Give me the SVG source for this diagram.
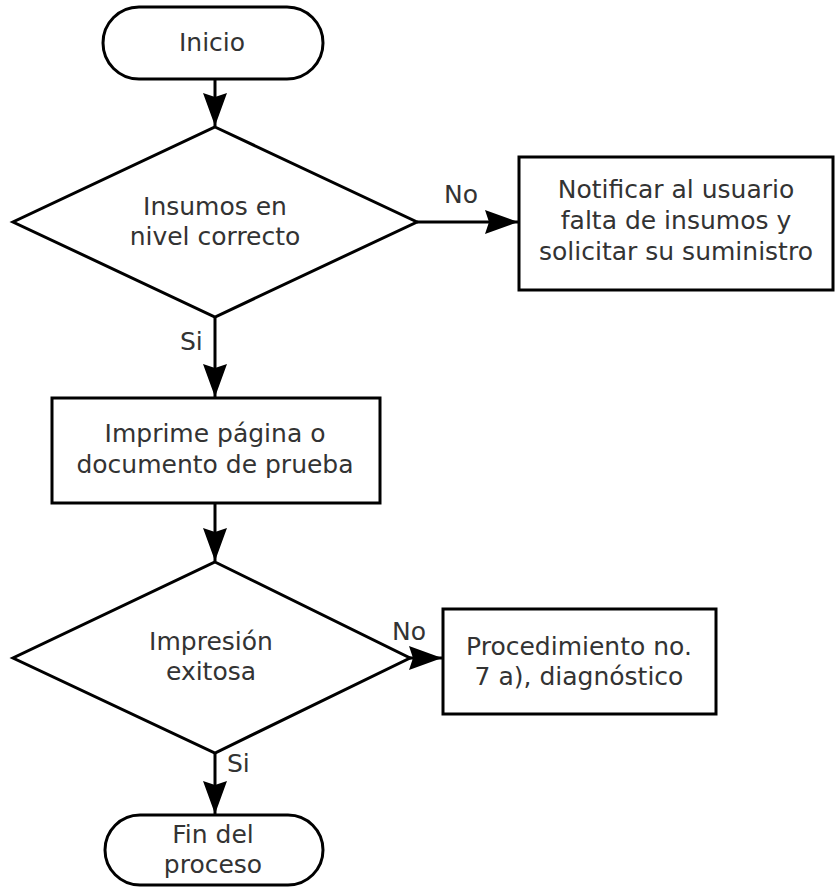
<svg xmlns="http://www.w3.org/2000/svg" width="837" height="888" viewBox="0 0 837 888">
  <style>
    .shape { fill: #ffffff; stroke: #000000; stroke-width: 3; }
    .edge { fill: none; stroke: #000000; stroke-width: 3; }
    text { font-family: "DejaVu Sans", "Liberation Sans", sans-serif; font-size: 25px; fill: #333333; }
    .c { text-anchor: middle; }
  </style>
  <defs>
    <marker id="arrow" viewBox="0 0 33 24" refX="33" refY="12" markerWidth="33" markerHeight="24" markerUnits="userSpaceOnUse" orient="auto">
      <path d="M0,0 L33,12 L0,24 L4,12 Z" fill="#000000"/>
    </marker>
  </defs>
  <rect x="0" y="0" width="837" height="888" fill="#ffffff"/>

  <g id="connectors">
    <line class="edge" x1="215" y1="79" x2="215" y2="126" marker-end="url(#arrow)"/>
    <line class="edge" x1="417" y1="222" x2="518" y2="222" marker-end="url(#arrow)"/>
    <line class="edge" x1="215" y1="317" x2="215" y2="397" marker-end="url(#arrow)"/>
    <line class="edge" x1="215" y1="503" x2="215" y2="561" marker-end="url(#arrow)"/>
    <line class="edge" x1="408" y1="658" x2="442" y2="658" marker-end="url(#arrow)"/>
    <line class="edge" x1="215" y1="753" x2="215" y2="814" marker-end="url(#arrow)"/>
    <text x="444" y="203">No</text>
    <text x="180" y="350">Si</text>
    <text x="392" y="640">No</text>
    <text x="227" y="772">Si</text>
  </g>

  <g id="inicio">
    <rect class="shape" x="103" y="7" width="220" height="72" rx="36" ry="36"/>
    <text class="c" x="212" y="51">Inicio</text>
  </g>

  <g id="decision-insumos">
    <polygon class="shape" points="215,127 417,222 215,317 13,222"/>
    <text class="c" x="215" y="215">Insumos en</text>
    <text class="c" x="215" y="245">nivel correcto</text>
  </g>

  <g id="notificar">
    <rect class="shape" x="519" y="157" width="314" height="133"/>
    <text class="c" x="676" y="198">Notificar al usuario</text>
    <text class="c" x="676" y="229">falta de insumos y</text>
    <text class="c" x="676" y="260">solicitar su suministro</text>
  </g>

  <g id="imprime">
    <rect class="shape" x="52" y="398" width="328" height="105"/>
    <text class="c" x="215" y="442">Imprime página o</text>
    <text class="c" x="215" y="473">documento de prueba</text>
  </g>

  <g id="decision-impresion">
    <polygon class="shape" points="215,562 410,658 215,753 13,658"/>
    <text class="c" x="211" y="650">Impresión</text>
    <text class="c" x="211" y="680">exitosa</text>
  </g>

  <g id="procedimiento">
    <rect class="shape" x="443" y="609" width="273" height="105"/>
    <text class="c" x="579" y="655">Procedimiento no.</text>
    <text class="c" x="579" y="685">7 a), diagnóstico</text>
  </g>

  <g id="fin">
    <rect class="shape" x="105" y="815" width="218" height="70" rx="35" ry="35"/>
    <text class="c" x="213" y="843">Fin del</text>
    <text class="c" x="213" y="873">proceso</text>
  </g>
</svg>
